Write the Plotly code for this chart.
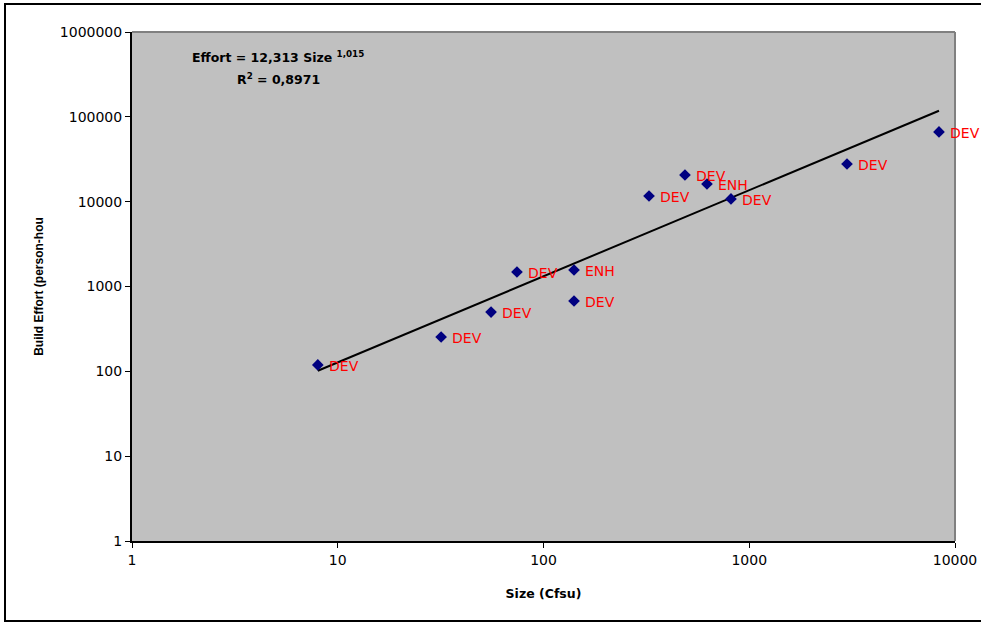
import math
import plotly.graph_objects as go

size_cfsu = [8, 31.8, 55.6, 74.3, 140.7, 140.7, 325.7, 487, 623, 815, 2986, 8360]
effort = [119, 254, 500, 1483, 1566, 675, 11670, 20630, 16150, 10760, 27800, 66300]
kinds = ["DEV", "DEV", "DEV", "DEV", "ENH", "DEV", "DEV", "DEV", "ENH", "DEV", "DEV", "DEV"]

trend_x = [8, 8360]
trend_y = [101.6, 117900]

x_ticks = [1, 10, 100, 1000, 10000]
y_ticks = [1, 10, 100, 1000, 10000, 100000, 1000000]

FONT = "DejaVu Sans, Liberation Sans, Arial, sans-serif"
FONT_NARROW = "Liberation Sans, Arial, sans-serif"

fig = go.Figure()
fig.add_trace(go.Scatter(
    x=trend_x, y=trend_y, mode="lines",
    line=dict(color="black", width=2), hoverinfo="skip", showlegend=False))
fig.add_trace(go.Scatter(
    x=size_cfsu, y=effort, mode="markers",
    marker=dict(symbol="diamond", size=9, color="#000080"),
    showlegend=False, cliponaxis=False))

L, R, T, B = 132, 26, 32, 82
W, H = 981, 623
pw, ph = W - L - R, H - T - B

def px(xp):
    return (xp - L) / pw

def py(yp):
    return (H - B - yp) / ph

label_annotations = [
    dict(x=math.log10(sx), y=math.log10(ey), xref="x", yref="y",
         text=k, showarrow=False, xanchor="left", yanchor="middle", xshift=9, yshift=-1,
         font=dict(family=FONT, size=14, color="#FF0000"))
    for sx, ey, k in zip(size_cfsu, effort, kinds)
]

fig.update_layout(
    width=W, height=H, autosize=False,
    margin=dict(l=L, r=R, t=T, b=B, autoexpand=False),
    paper_bgcolor="white", plot_bgcolor="#C0C0C0",
    font=dict(family=FONT, size=12, color="black"),
    xaxis=dict(type="log", range=[0, 4], tickvals=x_ticks,
               ticktext=[str(v) for v in x_ticks], automargin=False,
               ticks="outside", ticklen=5, tickwidth=1, tickcolor="black",
               showgrid=False, zeroline=False,
               showline=True, linecolor="black", linewidth=2,
               tickfont=dict(family=FONT, size=14),
               title=dict(text="<b>Size (Cfsu)</b>", font=dict(family=FONT, size=12.5), standoff=22)),
    yaxis=dict(type="log", range=[0, 6], tickvals=y_ticks,
               ticktext=[str(v) for v in y_ticks], automargin=False,
               ticks="outside", ticklen=5, tickwidth=1, tickcolor="black",
               showgrid=False, zeroline=False,
               showline=True, linecolor="black", linewidth=2,
               tickfont=dict(family=FONT, size=14),
               title=dict(text="<b>Build Effort (person-hou</b>", font=dict(family=FONT_NARROW, size=12), standoff=14)),
    shapes=[
        dict(type="line", xref="paper", yref="paper", x0=0, x1=1, y0=1, y1=1,
             line=dict(color="#808080", width=2)),
        dict(type="line", xref="paper", yref="paper", x0=1, x1=1, y0=0, y1=1,
             line=dict(color="#808080", width=2)),
        dict(type="rect", xref="paper", yref="paper",
             x0=px(5), x1=px(990), y0=py(621), y1=py(4),
             line=dict(color="black", width=2), fillcolor="rgba(0,0,0,0)", layer="below"),
    ],
    annotations=[
        dict(xref="paper", yref="paper", x=px(278), y=py(57), showarrow=False,
             text="<b>Effort = 12,313 Size <sup>1,015</sup></b>",
             font=dict(family=FONT, size=12.5, color="black"), xanchor="center", yanchor="middle"),
        dict(xref="paper", yref="paper", x=px(278), y=py(79), showarrow=False,
             text="<b>R<sup>2</sup> = 0,8971</b>",
             font=dict(family=FONT, size=12.5, color="black"), xanchor="center", yanchor="middle"),
    ] + label_annotations,
)

fig.write_html("out.html", config={"displayModeBar": False},
               post_script="document.body.style.margin='0';document.body.style.overflow='hidden';")
